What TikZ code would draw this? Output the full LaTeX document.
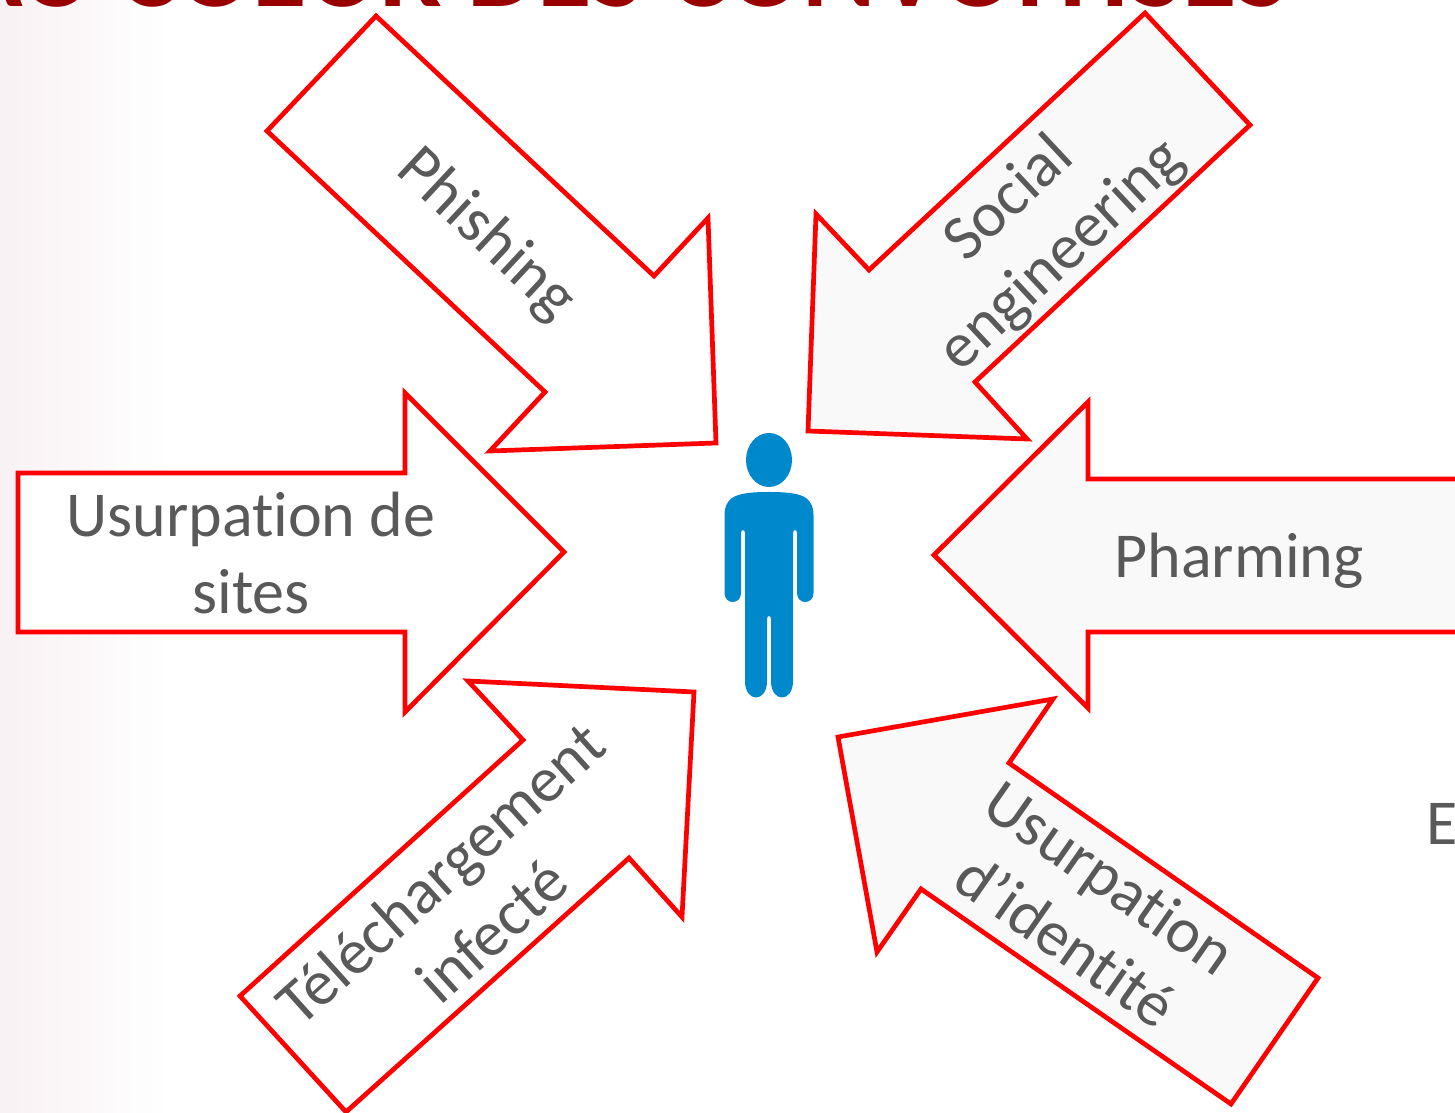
\documentclass[tikz,border=0pt]{standalone}
\usepackage{fontspec}
\setmainfont{Carlito}[Ligatures=NoCommon]
\definecolor{arrowred}{HTML}{FF0000}
\definecolor{titlered}{HTML}{990000}
\definecolor{labelgrey}{HTML}{595959}
\definecolor{arrowfill}{HTML}{F9F9F9}
\definecolor{figblue}{HTML}{0088CC}
\definecolor{edgepink}{HTML}{F8F1F4}
\tikzset{
  arrowbox/.style={draw=arrowred,line width=4.7bp,line join=miter,miter limit=10},
  arrowlabel/.style={text=labelgrey,align=center,inner sep=0pt,font=\fontsize{64bp}{77bp}\selectfont},
}
\begin{document}
\begin{tikzpicture}[line join=bevel,]
    %%
    \clip (0bp,0bp) rectangle (1455bp,1113bp);
    \useasboundingbox (0bp,0bp) rectangle (1455bp,1113bp);
    \fill [white] (0bp,0bp) rectangle (1455bp,1113bp);
    \shade [left color=edgepink,right color=white] (0bp,0bp) rectangle (170bp,1113bp);
    %
    \node (title) at (622bp,1106bp) [anchor=base,text=titlered,inner sep=0pt,font=\fontsize{111.5bp}{112bp}\selectfont\bfseries] {AU COEUR DES CONVOITISES};
    %
    \draw [arrowbox,fill=white] (376bp,1097bp) -- (654bp,837bp) -- (708bp,895bp) -- (716bp,670bp) -- (490bp,662bp) -- (545bp,721bp) -- (267bp,982bp) -- cycle;
    \draw [arrowbox,fill=arrowfill] (1145bp,1100bp) -- (1250bp,988bp) -- (975bp,731bp) -- (1027bp,674bp) -- (808bp,682bp) -- (816bp,899bp) -- (869bp,843bp) -- cycle;
    \draw [arrowbox,fill=white] (18bp,640bp) -- (405bp,640bp) -- (405bp,720bp) -- (564bp,561bp) -- (405bp,401bp) -- (405bp,481bp) -- (18bp,481bp) -- cycle;
    \draw [arrowbox,fill=arrowfill] (1465bp,634bp) -- (1088bp,634bp) -- (1088bp,711bp) -- (934bp,558bp) -- (1088bp,405bp) -- (1088bp,481bp) -- (1465bp,481bp) -- cycle;
    \draw [arrowbox,fill=white] (240bp,117bp) -- (523bp,373bp) -- (468bp,432bp) -- (694bp,421bp) -- (682bp,196bp) -- (629bp,255bp) -- (346bp,1bp) -- cycle;
    \draw [arrowbox,fill=arrowfill] (838bp,376bp) -- (1053bp,414bp) -- (1009bp,350bp) -- (1318bp,135bp) -- (1231bp,9bp) -- (921bp,224bp) -- (877bp,161bp) -- cycle;
    %
    \node (phishing) at (486bp,878bp) [arrowlabel,rotate=-43] {Phishing};
    \node (social) at (1036bp,885bp) [arrowlabel,rotate=43] {Social\\engineering};
    \node (sites) at (251bp,560bp) [arrowlabel] {Usurpation de\\sites};
    \node (pharming) at (1239bp,552bp) [arrowlabel] {Pharming};
    \node (download) at (466bp,211bp) [arrowlabel,rotate=42] {Téléchargement\\infecté};
    \node (identity) at (1088bp,204bp) [arrowlabel,rotate=-35] {Usurpation\\d’identité};
    \node (cutoff) at (1426bp,268bp) [anchor=base west,text=labelgrey,inner sep=0pt,font=\fontsize{64bp}{77bp}\selectfont] {E};
    %
    \fill [figblue] (769bp,653bp) ellipse (23bp and 27bp);
    \fill [figblue] (769bp,621bp) .. controls (790bp,621bp) and (800bp,619bp) .. (806bp,615bp)
      .. controls (811bp,611bp) and (813.5bp,606bp) .. (813.5bp,598bp) -- (813.5bp,520bp)
      .. controls (813.5bp,508bp) and (797bp,508bp) .. (797bp,520bp) -- (797bp,580bp)
      .. controls (797bp,584bp) and (793bp,584bp) .. (793bp,580bp) -- (793bp,432bp)
      .. controls (793bp,410bp) and (771bp,410bp) .. (771bp,432bp) -- (771bp,494bp)
      .. controls (771bp,498bp) and (767bp,498bp) .. (767bp,494bp) -- (767bp,432bp)
      .. controls (767bp,410bp) and (745bp,410bp) .. (745bp,432bp) -- (745bp,580bp)
      .. controls (745bp,584bp) and (741bp,584bp) .. (741bp,580bp) -- (741bp,520bp)
      .. controls (741bp,508bp) and (724.5bp,508bp) .. (724.5bp,520bp) -- (724.5bp,598bp)
      .. controls (724.5bp,606bp) and (727bp,611bp) .. (732bp,615bp)
      .. controls (738bp,619bp) and (748bp,621bp) .. (769bp,621bp) -- cycle;
    %
\end{tikzpicture}
\end{document}
